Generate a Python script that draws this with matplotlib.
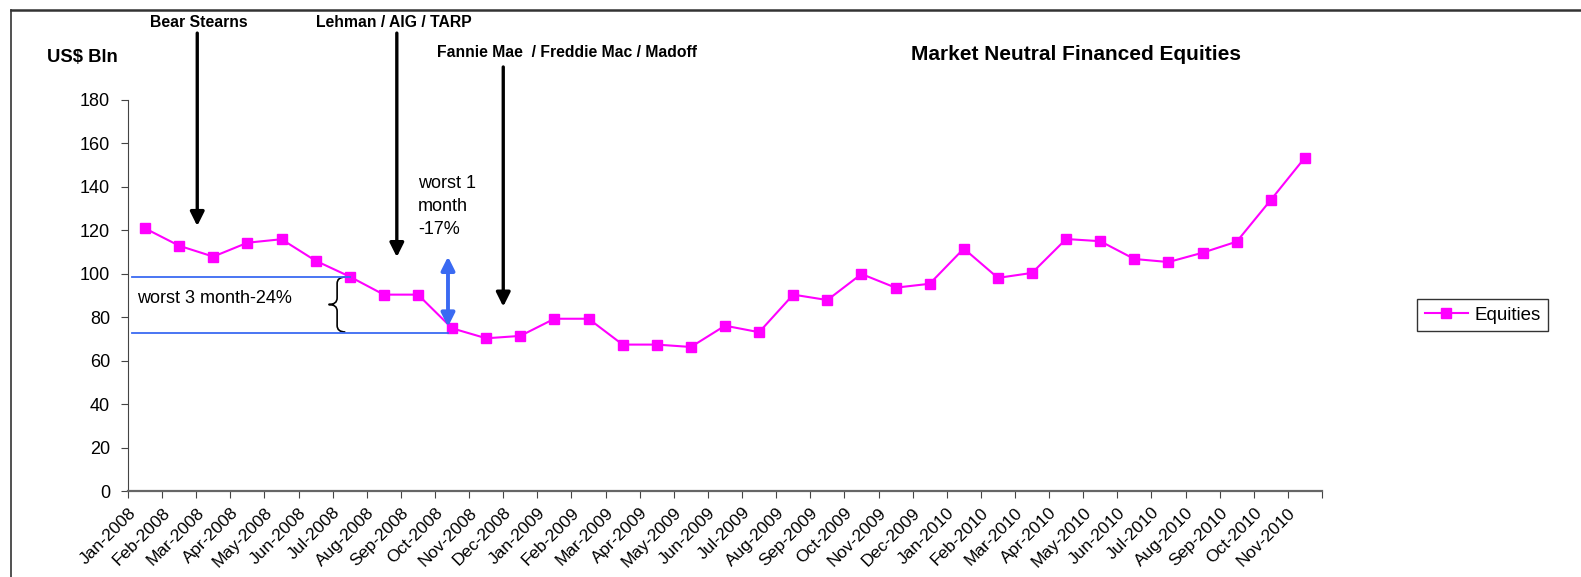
import numpy as np
import matplotlib.pyplot as plt
from matplotlib.path import Path
from matplotlib.patches import PathPatch
from matplotlib.lines import Line2D

plt.rcParams['font.family'] = ['Liberation Sans', 'DejaVu Sans']

months = ['Jan-2008', 'Feb-2008', 'Mar-2008', 'Apr-2008', 'May-2008', 'Jun-2008',
          'Jul-2008', 'Aug-2008', 'Sep-2008', 'Oct-2008', 'Nov-2008', 'Dec-2008',
          'Jan-2009', 'Feb-2009', 'Mar-2009', 'Apr-2009', 'May-2009', 'Jun-2009',
          'Jul-2009', 'Aug-2009', 'Sep-2009', 'Oct-2009', 'Nov-2009', 'Dec-2009',
          'Jan-2010', 'Feb-2010', 'Mar-2010', 'Apr-2010', 'May-2010', 'Jun-2010',
          'Jul-2010', 'Aug-2010', 'Sep-2010', 'Oct-2010', 'Nov-2010']
equities = [120.9, 112.9, 107.9, 114.3, 115.9, 106.0, 98.7, 90.4, 90.4, 74.9,
            70.3, 71.4, 79.3, 79.3, 67.4, 67.4, 66.3, 76.1, 73.1, 90.4,
            87.9, 99.9, 93.6, 95.4, 111.6, 98.1, 100.4, 116.0, 115.0, 106.8,
            105.4, 109.7, 114.8, 134.0, 153.5]

# events (x in category units, arrow start / tip in US$ Bln)
events = ['Bear Stearns', 'Lehman / AIG / TARP', 'Fannie Mae  / Freddie Mac / Madoff']
event_x = [2.03, 7.88, 11.0]
event_top = [210.8, 210.8, 195.2]
event_tip = [122.0, 107.7, 84.9]
event_label_y = [215.5, 215.5, 201.7]
event_label_x = [2.08, 7.8, 12.88]

# drawdown markers
peak_level = 98.7
trough_level = 72.6

fig = plt.figure(figsize=(15.81, 5.77), dpi=100)
ax = fig.add_axes([128 / 1581, 1 - 491 / 577, 1194 / 1581, 391 / 577])

x = np.arange(len(equities)) + 0.5
ax.plot(x, equities, color='#FF00FF', lw=1.5, marker='s', ms=6.5, label='Equities')

ax.set_xlim(0, len(months))
ax.set_ylim(0, 180)
ax.set_yticks(range(0, 181, 20))
ax.set_xticks(np.arange(len(months) + 1))
ax.set_xticklabels(months + [''], rotation=45, ha='right', va='top',
                   rotation_mode='anchor', fontsize=12.5)
ax.tick_params(axis='y', labelsize=13, length=5, pad=8, color='#444444')
ax.tick_params(axis='x', length=5, pad=5, color='#444444')
for s in ['top', 'right']:
    ax.spines[s].set_visible(False)
ax.spines['left'].set_color('#444444')
ax.spines['bottom'].set_color('#666666')
ax.spines['bottom'].set_linewidth(1.6)

# event arrows and labels
for lab, ex, et, tip, ly, lx in zip(events, event_x, event_top, event_tip,
                                     event_label_y, event_label_x):
    ax.annotate('', xy=(ex, tip), xytext=(ex, et),
                arrowprops=dict(arrowstyle='-|>', color='black', lw=2.4,
                                mutation_scale=21, shrinkA=0, shrinkB=0),
                annotation_clip=False)
    ax.text(lx, ly, lab, ha='center', va='center', fontsize=11.3,
            fontweight='bold', clip_on=False)

# worst 1 month
ax.annotate('', xy=(9.38, 75.6), xytext=(9.38, 107.9),
            arrowprops=dict(arrowstyle='<|-|>', color='#3A6AF2', lw=2.8,
                            mutation_scale=20, shrinkA=0, shrinkB=0))
ax.text(8.5, 145.5, 'worst 1\nmonth\n-17%', ha='left', va='top', fontsize=13,
        linespacing=1.45)

# worst 3 month
ax.plot([0.11, 6.5], [peak_level, peak_level], color='#3A6AF2', lw=1.3)
ax.plot([0.11, 9.38], [trough_level, trough_level], color='#3A6AF2', lw=1.3)
ax.text(0.27, 88.4, 'worst 3 month-24%', ha='left', va='center', fontsize=13)

xr, xm, xl = 6.37, 6.13, 5.88
yt, yb = peak_level - 0.2, trough_level + 0.6
ym = (yt + yb) / 2
verts = [(xr, yt), (xm, yt), (xm, yt - 3),
         (xm, ym + 3),
         (xm, ym), (xl, ym),
         (xm, ym), (xm, ym - 3),
         (xm, yb + 3),
         (xm, yb), (xr, yb)]
codes = [Path.MOVETO, Path.CURVE3, Path.CURVE3,
         Path.LINETO,
         Path.CURVE3, Path.CURVE3,
         Path.CURVE3, Path.CURVE3,
         Path.LINETO,
         Path.CURVE3, Path.CURVE3]
ax.add_patch(PathPatch(Path(verts, codes), fill=False, lw=1.2, edgecolor='black'))

# titles
fig.text(1076 / 1581, 1 - 55 / 577, 'Market Neutral Financed Equities',
         ha='center', va='center', fontsize=15, fontweight='bold')
fig.text(82 / 1581, 1 - 57 / 577, 'US$ Bln', ha='center', va='center',
         fontsize=13.3, fontweight='bold')

leg = fig.legend(loc='upper left', bbox_to_anchor=(1417 / 1581, 1 - 299 / 577),
                 fontsize=13.5, frameon=True, fancybox=False, handlelength=2.3,
                 handletextpad=0.35, borderpad=0.4, borderaxespad=0)
leg.get_frame().set_edgecolor('black')
leg.get_frame().set_linewidth(1.0)

# chart frame
fig.add_artist(Line2D([11 / 1581, 1], [1 - 10 / 577] * 2, color='#333333', lw=1.8))
fig.add_artist(Line2D([11 / 1581] * 2, [0, 1 - 10 / 577], color='#333333', lw=1.2))

fig.savefig('out.png', dpi=100)
